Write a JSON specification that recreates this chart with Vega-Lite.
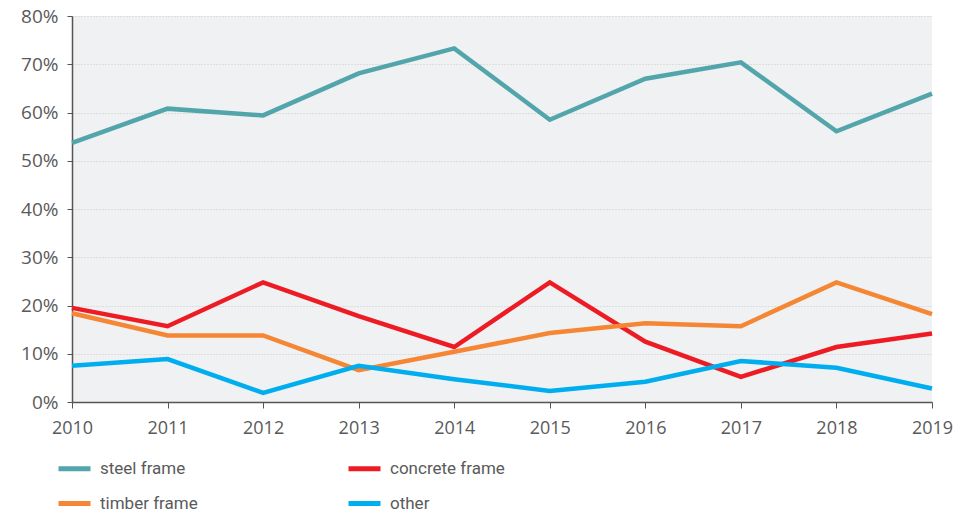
{
  "$schema": "https://vega.github.io/schema/vega-lite/v6.json",
  "autosize": "none",
  "width": 860,
  "height": 386,
  "padding": {"left": 72, "top": 16, "right": 33, "bottom": 112},
  "background": "#ffffff",
  "view": {"fill": "#F0F1F3", "stroke": null},
  "data": {
    "values": [
      {"year": "2010", "type": "steel frame", "share": 53.7},
      {"year": "2011", "type": "steel frame", "share": 60.8},
      {"year": "2012", "type": "steel frame", "share": 59.4},
      {"year": "2013", "type": "steel frame", "share": 68.1},
      {"year": "2014", "type": "steel frame", "share": 73.3},
      {"year": "2015", "type": "steel frame", "share": 58.5},
      {"year": "2016", "type": "steel frame", "share": 67.0},
      {"year": "2017", "type": "steel frame", "share": 70.4},
      {"year": "2018", "type": "steel frame", "share": 56.1},
      {"year": "2019", "type": "steel frame", "share": 63.9},
      {"year": "2010", "type": "concrete frame", "share": 19.5},
      {"year": "2011", "type": "concrete frame", "share": 15.7},
      {"year": "2012", "type": "concrete frame", "share": 24.8},
      {"year": "2013", "type": "concrete frame", "share": 17.8},
      {"year": "2014", "type": "concrete frame", "share": 11.4},
      {"year": "2015", "type": "concrete frame", "share": 24.8},
      {"year": "2016", "type": "concrete frame", "share": 12.5},
      {"year": "2017", "type": "concrete frame", "share": 5.2},
      {"year": "2018", "type": "concrete frame", "share": 11.4},
      {"year": "2019", "type": "concrete frame", "share": 14.2},
      {"year": "2010", "type": "timber frame", "share": 18.4},
      {"year": "2011", "type": "timber frame", "share": 13.8},
      {"year": "2012", "type": "timber frame", "share": 13.8},
      {"year": "2013", "type": "timber frame", "share": 6.6},
      {"year": "2014", "type": "timber frame", "share": 10.4},
      {"year": "2015", "type": "timber frame", "share": 14.3},
      {"year": "2016", "type": "timber frame", "share": 16.3},
      {"year": "2017", "type": "timber frame", "share": 15.7},
      {"year": "2018", "type": "timber frame", "share": 24.8},
      {"year": "2019", "type": "timber frame", "share": 18.2},
      {"year": "2010", "type": "other", "share": 7.5},
      {"year": "2011", "type": "other", "share": 8.9},
      {"year": "2012", "type": "other", "share": 1.9},
      {"year": "2013", "type": "other", "share": 7.5},
      {"year": "2014", "type": "other", "share": 4.7},
      {"year": "2015", "type": "other", "share": 2.3},
      {"year": "2016", "type": "other", "share": 4.2},
      {"year": "2017", "type": "other", "share": 8.5},
      {"year": "2018", "type": "other", "share": 7.1},
      {"year": "2019", "type": "other", "share": 2.8}
    ]
  },
  "mark": {"type": "line", "strokeWidth": 4.5, "strokeJoin": "miter", "strokeCap": "butt"},
  "encoding": {
    "x": {
      "field": "year",
      "type": "ordinal",
      "scale": {"type": "point", "padding": 0},
      "axis": {
        "title": null,
        "labelAngle": 0,
        "grid": false,
        "domainColor": "#555555",
        "domainWidth": 1.5,
        "tickColor": "#555555",
        "tickSize": 6,
        "labelPadding": 11,
        "labelFont": "Open Sans",
        "labelFontSize": 18,
        "labelColor": "#5a5a5a"
      }
    },
    "y": {
      "field": "share",
      "type": "quantitative",
      "scale": {"domain": [0, 80], "nice": false},
      "axis": {
        "title": null,
        "values": [0, 10, 20, 30, 40, 50, 60, 70, 80],
        "labelExpr": "datum.value + '%'",
        "grid": true,
        "gridColor": "#c8c8c8",
        "gridDash": [1, 2],
        "gridWidth": 1,
        "domainColor": "#555555",
        "domainWidth": 1.5,
        "tickColor": "#555555",
        "tickSize": 5,
        "labelPadding": 9,
        "labelFont": "Open Sans",
        "labelFontSize": 19,
        "labelColor": "#5a5a5a"
      }
    },
    "color": {
      "field": "type",
      "type": "nominal",
      "sort": ["steel frame", "concrete frame", "timber frame", "other"],
      "scale": {
        "domain": ["steel frame", "concrete frame", "timber frame", "other"],
        "range": ["#52A6AB", "#ED1C24", "#F58634", "#00AEEF"]
      },
      "legend": {
        "title": null,
        "orient": "none",
        "legendX": -16,
        "legendY": 434,
        "direction": "horizontal",
        "columns": 2,
        "columnPadding": 140,
        "rowPadding": 6,
        "symbolType": "stroke",
        "symbolSize": 1024,
        "symbolStrokeWidth": 5,
        "labelOffset": 7,
        "labelFont": "Roboto",
        "labelFontSize": 17,
        "labelColor": "#5a5a5a"
      }
    }
  }
}
